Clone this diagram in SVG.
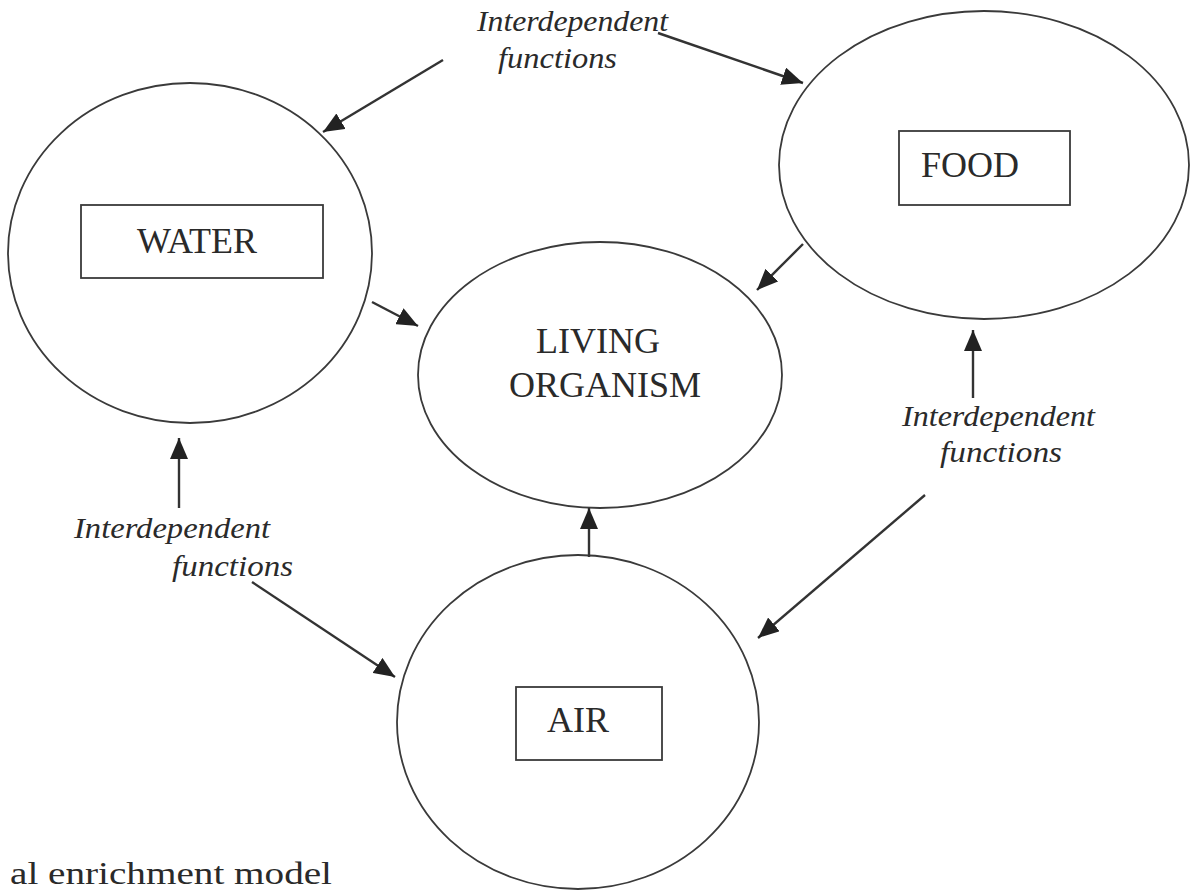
<svg xmlns="http://www.w3.org/2000/svg" width="1194" height="893" viewBox="0 0 1194 893">
<style>
.node{fill:none;stroke:#3a3a3a;stroke-width:1.8}
.box{fill:none;stroke:#3a3a3a;stroke-width:1.8}
.lbl{font-family:"Liberation Serif","Times New Roman",serif;font-size:36px;fill:#2a2a2a}
.it{font-family:"Liberation Serif","Times New Roman",serif;font-style:italic;font-size:30px;fill:#2a2a2a}
.conn{stroke:#333;stroke-width:2.4;fill:none;marker-end:url(#ah)}
</style>
<defs>
<marker id="ah" markerUnits="userSpaceOnUse" markerWidth="22" markerHeight="18" refX="21" refY="9" orient="auto">
<path d="M0,0 L21,9 L0,18 z" fill="#222"/>
</marker>
</defs>
<rect width="1194" height="893" fill="#fff"/>
<g id="water">
<ellipse class="node" cx="190" cy="253" rx="182" ry="170"/>
<rect class="box" x="81" y="205" width="242" height="73"/>
<text class="lbl" x="197" y="253" text-anchor="middle">WATER</text>
</g>
<g id="food">
<ellipse class="node" cx="984" cy="165" rx="205" ry="154"/>
<rect class="box" x="899" y="131" width="171" height="74"/>
<text class="lbl" x="921" y="177">FOOD</text>
</g>
<g id="living">
<ellipse class="node" cx="600" cy="375" rx="182" ry="133"/>
<text class="lbl" x="598" y="353" text-anchor="middle">LIVING</text>
<text class="lbl" x="605" y="397" text-anchor="middle">ORGANISM</text>
</g>
<g id="air">
<ellipse class="node" cx="578" cy="722" rx="181" ry="167"/>
<rect class="box" x="516" y="687" width="146" height="73"/>
<text class="lbl" x="547" y="732">AIR</text>
</g>
<g id="labels">
<text class="it" x="477" y="31" textLength="191" lengthAdjust="spacingAndGlyphs">Interdependent</text>
<text class="it" x="498" y="68" textLength="119" lengthAdjust="spacingAndGlyphs">functions</text>
<text class="it" x="902" y="426" textLength="193" lengthAdjust="spacingAndGlyphs">Interdependent</text>
<text class="it" x="940" y="462" textLength="122" lengthAdjust="spacingAndGlyphs">functions</text>
<text class="it" x="74" y="538" textLength="196" lengthAdjust="spacingAndGlyphs">Interdependent</text>
<text class="it" x="172" y="576" textLength="121" lengthAdjust="spacingAndGlyphs">functions</text>
<text class="lbl" x="10" y="884" style="font-size:32px" textLength="322" lengthAdjust="spacingAndGlyphs">al enrichment model</text>
</g>
<g id="connectors">
<line class="conn" x1="443" y1="60" x2="323" y2="132"/>
<line class="conn" x1="658" y1="33" x2="803" y2="83"/>
<line class="conn" x1="372" y1="302" x2="418" y2="326"/>
<line class="conn" x1="803" y1="244" x2="757" y2="290"/>
<line class="conn" x1="179" y1="508" x2="179" y2="438"/>
<line class="conn" x1="973" y1="398" x2="973" y2="330"/>
<line class="conn" x1="589" y1="557" x2="589" y2="508"/>
<line class="conn" x1="252" y1="582" x2="395" y2="677"/>
<line class="conn" x1="925" y1="495" x2="758" y2="638"/>
</g>
</svg>
